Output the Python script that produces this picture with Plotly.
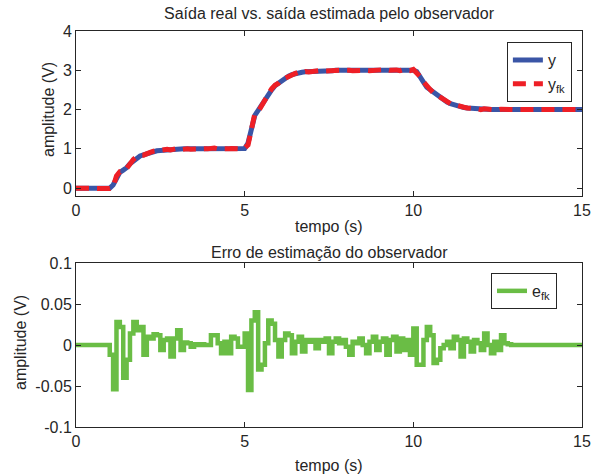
import plotly.graph_objects as go

# time grid (s), sample period 0.1 s
t = [round(i * 0.1, 1) for i in range(151)]

# real output y
y = [0, 0, 0, 0, 0, 0, 0, 0, 0, 0, 0,
     0.08, 0.28, 0.40, 0.46, 0.52, 0.62, 0.70, 0.78, 0.82, 0.85,
     0.88, 0.90, 0.93, 0.95, 0.96, 0.97, 0.98, 0.98, 0.98, 0.99,
     0.99, 1.0, 1.0, 0.99, 1.0, 1.0, 1.0, 1.0, 1.0, 1.01,
     1.01, 1.0, 1.0, 1.0, 1.01, 1.0, 0.99, 1.0, 1.0,
     1.01, 1.15, 1.55, 1.85, 1.98, 2.12, 2.25, 2.38, 2.50, 2.61,
     2.68, 2.75, 2.80, 2.85, 2.89, 2.92, 2.94, 2.95, 2.96, 2.96,
     2.97, 2.97, 2.98, 2.98, 2.98, 2.99,
     2.99, 3.0, 3.0, 3.0, 3.0, 3.0, 3.0, 3.0, 3.0, 3.0, 3.0, 3.0,
     3.0, 3.0, 3.0, 3.0, 3.01, 3.01, 3.01, 3.0, 3.0, 3.01, 3.01, 3.0,
     3.0, 2.97, 2.86, 2.70, 2.57, 2.50, 2.44, 2.38, 2.31, 2.25,
     2.19, 2.15, 2.12, 2.09, 2.07, 2.05, 2.04, 2.03, 2.02, 2.02,
     2.01, 2.01, 2.01, 2.00,
     2.0, 2.0, 2.0, 2.0, 2.0, 2.0, 2.0, 2.0, 2.0, 2.0, 2.0, 2.0, 2.0, 2.0,
     2.0, 2.0, 2.0, 2.0, 2.0, 2.0, 2.0, 2.0, 2.0, 2.0, 2.0, 2.0, 2.0]

# observer estimate y_fk
y_fk = [0, 0, 0, 0, 0, 0, 0, 0, 0, 0, -0.01,
        0.03, 0.31, 0.42, 0.42, 0.50, 0.63, 0.73, 0.80, 0.84, 0.84,
        0.89, 0.91, 0.94, 0.96, 0.95, 0.98, 0.99, 0.97, 0.99, 1.01,
        0.98, 1.0, 1.0, 0.99, 1.0, 1.0, 1.0, 1.0, 1.0, 1.02,
        1.02, 1.0, 0.99, 1.0, 1.0, 1.01, 0.99, 1.0, 1.0,
        1.02, 1.10, 1.58, 1.89, 1.95, 2.10, 2.25, 2.41, 2.53, 2.62,
        2.67, 2.76, 2.81, 2.86, 2.88, 2.92, 2.95, 2.94, 2.97, 2.96,
        2.98, 2.97, 2.99, 2.98, 2.99, 2.98,
        2.99, 3.01, 3.0, 3.0, 3.01, 3.0, 2.99, 3.0, 3.0, 3.01, 3.0, 2.99,
        3.0, 3.01, 2.99, 3.0, 3.02, 3.0, 3.02, 3.01, 2.99, 3.02, 3.0, 2.99,
        3.02, 2.95, 2.84, 2.71, 2.59, 2.51, 2.42, 2.36, 2.31, 2.25,
        2.19, 2.15, 2.13, 2.10, 2.06, 2.06, 2.04, 2.02, 2.03, 2.02,
        2.00, 2.02, 2.01, 1.99,
        2.00, 1.99, 2.01, 2.00, 2.00, 2.00, 2.0, 2.0, 2.0, 2.0, 2.0, 2.0, 2.0, 2.0,
        2.0, 2.0, 2.0, 2.0, 2.0, 2.0, 2.0, 2.0, 2.0, 2.0, 2.0, 2.0, 2.0]

# estimation error e_fk
e_fk = [0, 0, 0, 0, 0, 0, 0, 0, 0, 0,
        -0.012, -0.054, 0.028, 0.022, -0.040, -0.018, 0.014, 0.028, 0.018, 0.022,
        -0.012, 0.010, 0.008, 0.013, 0.012, -0.006, 0.006, 0.008, -0.014, 0.008,
        0.018, -0.006, 0.003, 0.002, -0.002, 0.001, 0.0, 0.001, 0.0, 0.0,
        0.012, 0.012, 0.002, -0.010, 0.004, -0.010, 0.010, 0.008, -0.002, -0.002,
        0.014, -0.055, 0.030, 0.040, -0.030, -0.024, 0.002, 0.030, 0.026, 0.006,
        -0.014, 0.006, 0.014, 0.012, -0.010, 0.004, 0.010, -0.008, 0.006, 0.004,
        0.006, -0.004, 0.006, 0.004, 0.008, -0.010, 0.004, 0.008, 0.002, 0.006,
        -0.002, -0.012, 0.004, 0.002, 0.008, 0.0, -0.010, 0.004, 0.010, -0.006,
        0.004, 0.008, -0.012, 0.006, 0.010, -0.008, 0.008, -0.006, 0.006, -0.012,
        0.020, -0.024, -0.024, 0.006, 0.022, 0.012, -0.022, -0.018, -0.004, 0.0,
        0.004, -0.004, 0.010, 0.006, -0.014, 0.008, 0.004, -0.008, 0.006, 0.002,
        -0.006, 0.014, 0.0, -0.010, 0.004, -0.006, 0.012, 0.002, 0.001,
        0, 0, 0, 0, 0, 0, 0, 0, 0, 0, 0, 0, 0, 0, 0, 0, 0, 0, 0, 0, 0, 0]

x_ticks = [0, 5, 10, 15]
y1_ticks = [0, 1, 2, 3, 4]
y2_ticks = [-0.1, -0.05, 0, 0.05, 0.1]
y2_ticktext = ["-0.1", "-0.05", "0", "0.05", "0.1"]

FONT = "Liberation Sans, Arial, sans-serif"
AX = "#262626"
BLUE = "#3a55a6"
RED = "#ee1f26"
GREEN = "#6abd45"
FS = 16

fig = go.Figure()
fig.add_trace(go.Scatter(x=t, y=y, mode="lines", name="y",
                         line=dict(color=BLUE, width=5), xaxis="x", yaxis="y",
                         legend="legend"))
fig.add_trace(go.Scatter(x=t, y=y_fk, mode="lines", name="y<sub>fk</sub>",
                         line=dict(color=RED, width=5, dash="13px,8px"),
                         xaxis="x", yaxis="y", legend="legend"))
fig.add_trace(go.Scatter(x=t, y=e_fk, mode="lines", name="e<sub>fk</sub>",
                         line=dict(color=GREEN, width=4.5, shape="hv"),
                         xaxis="x2", yaxis="y2", legend="legend2"))

axis_common = dict(showline=True, linecolor=AX, linewidth=1, mirror="ticks",
                   ticks="inside", ticklen=5, tickcolor=AX, showgrid=False,
                   zeroline=False, automargin=False,
                   tickfont=dict(family=FONT, size=FS, color=AX))

TOP = [0.5833, 1.0]
BOT = [0.0, 0.4141]

fig.update_layout(
    width=598, height=476, autosize=False,
    margin=dict(l=76, r=16, t=31, b=49, autoexpand=False),
    paper_bgcolor="white", plot_bgcolor="white",
    font=dict(family=FONT, color=AX),
    xaxis=dict(domain=[0, 1], anchor="y", range=[0, 15], tickvals=x_ticks, **axis_common),
    yaxis=dict(domain=TOP, anchor="x", range=[-0.2, 4], tickvals=y1_ticks, **axis_common),
    xaxis2=dict(domain=[0, 1], anchor="y2", range=[0, 15], tickvals=x_ticks, **axis_common),
    yaxis2=dict(domain=BOT, anchor="x2", range=[-0.1, 0.1], tickvals=y2_ticks,
                ticktext=y2_ticktext, **axis_common),
    legend=dict(x=0.98, y=0.972, xanchor="right", yanchor="top",
                bgcolor="white", bordercolor=AX, borderwidth=1,
                font=dict(family=FONT, size=FS, color=AX), tracegroupgap=0),
    legend2=dict(x=0.9506, y=0.389, xanchor="right", yanchor="top",
                 bgcolor="white", bordercolor=AX, borderwidth=1,
                 font=dict(family=FONT, size=FS, color=AX)),
    showlegend=True,
)

ann = [
    dict(text="Saída real vs. saída estimada pelo observador", x=0.5, y=(427 - 14) / 396),
    dict(text="Erro de estimação do observador", x=0.5, y=(427 - 253) / 396),
    dict(text="tempo (s)", x=0.5, y=(427 - 226) / 396),
    dict(text="tempo (s)", x=0.5, y=(427 - 465) / 396),
]
for a in ann:
    fig.add_annotation(xref="paper", yref="paper", showarrow=False,
                       xanchor="center", yanchor="middle",
                       font=dict(family=FONT, size=FS, color=AX), **a)
for xc, yc in [(48, 110), (20, 343)]:
    fig.add_annotation(text="amplitude (V)", xref="paper", yref="paper",
                       x=(xc - 76) / 506, y=(427 - yc) / 396, textangle=-90,
                       showarrow=False, xanchor="center", yanchor="middle",
                       font=dict(family=FONT, size=FS, color=AX))

fig.write_html("out.html",
               config={"displayModeBar": False, "responsive": False},
               post_script="document.body.style.margin='0';"
                           "document.body.style.overflow='hidden';")
